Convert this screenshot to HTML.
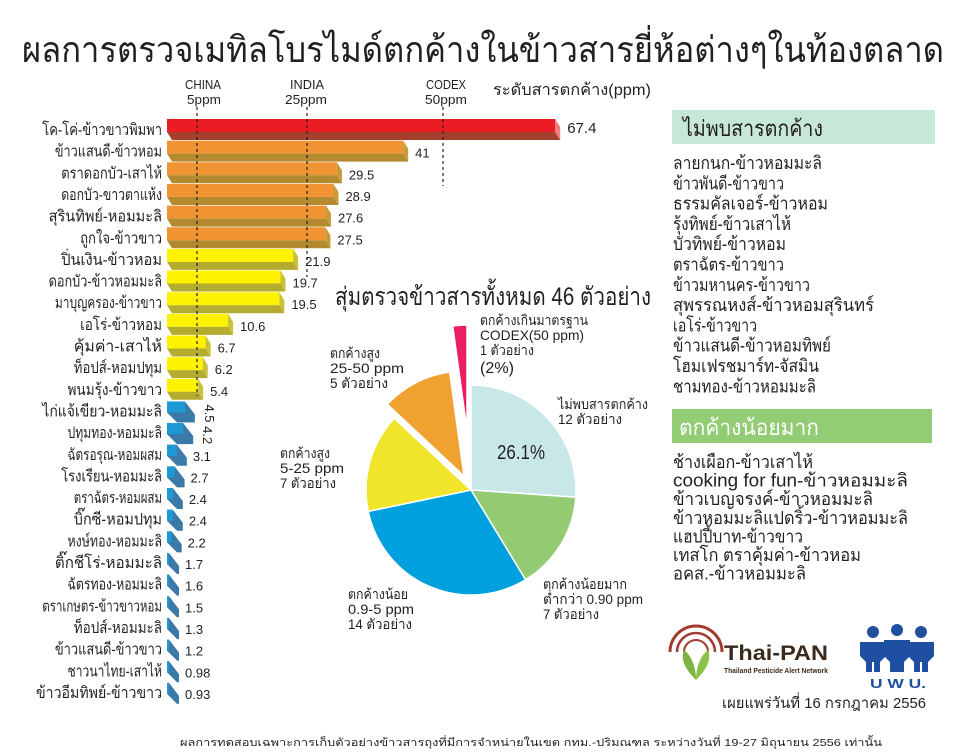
<!DOCTYPE html>
<html><head><meta charset="utf-8">
<style>
html,body{margin:0;padding:0;background:#fff;}
svg{display:block;font-family:"Liberation Sans","DejaVu Sans",sans-serif;}
</style></head>
<body>
<svg id="s" width="960" height="754" viewBox="0 0 960 754" xmlns="http://www.w3.org/2000/svg">
<rect width="960" height="754" fill="#fff"/>
<text x="22" y="62" font-size="36" fill="#231f20" textLength="922" lengthAdjust="spacingAndGlyphs">ผลการตรวจเมทิลโบรไมด์ตกค้างในข้าวสารยี่ห้อต่างๆในท้องตลาด</text>
<g font-size="13" fill="#231f20" font-family="Liberation Sans Narrow, Liberation Sans, sans-serif">
<text x="185" y="89" textLength="36" lengthAdjust="spacingAndGlyphs">CHINA</text>
<text x="187" y="104" textLength="34" lengthAdjust="spacingAndGlyphs">5ppm</text>
<text x="290" y="89" textLength="34" lengthAdjust="spacingAndGlyphs">INDIA</text>
<text x="285" y="104" textLength="42" lengthAdjust="spacingAndGlyphs">25ppm</text>
<text x="426" y="89" textLength="40" lengthAdjust="spacingAndGlyphs">CODEX</text>
<text x="425" y="104" textLength="42" lengthAdjust="spacingAndGlyphs">50ppm</text>
</g>
<text x="493" y="95" font-size="16" fill="#231f20" textLength="158" lengthAdjust="spacingAndGlyphs">ระดับสารตกค้าง(ppm)</text>
<g id="bars"></g>
<g stroke="#231f20" stroke-width="1.2" stroke-dasharray="3,3">
<line x1="197" y1="107" x2="197" y2="396"/>
<line x1="307" y1="107" x2="307" y2="277"/>
<line x1="443" y1="107" x2="443" y2="186"/>
</g>
<text x="335" y="305" font-size="25" fill="#231f20" textLength="316" lengthAdjust="spacingAndGlyphs">สุ่มตรวจข้าวสารทั้งหมด 46 ตัวอย่าง</text>
<g id="pie"></g>
<g font-size="14" fill="#231f20">
<text x="480" y="325" textLength="108" lengthAdjust="spacingAndGlyphs">ตกค้างเกินมาตรฐาน</text>
<text x="480" y="340" textLength="104" lengthAdjust="spacingAndGlyphs">CODEX(50 ppm)</text>
<text x="480" y="355" textLength="54" lengthAdjust="spacingAndGlyphs">1 ตัวอย่าง</text>
<text x="480" y="373" font-size="16" textLength="34" lengthAdjust="spacingAndGlyphs">(2%)</text>
<text x="330" y="358" textLength="50" lengthAdjust="spacingAndGlyphs">ตกค้างสูง</text>
<text x="330" y="373" textLength="74" lengthAdjust="spacingAndGlyphs">25-50 ppm</text>
<text x="330" y="388" textLength="58" lengthAdjust="spacingAndGlyphs">5 ตัวอย่าง</text>
<text x="558" y="409" textLength="90" lengthAdjust="spacingAndGlyphs">ไม่พบสารตกค้าง</text>
<text x="558" y="424" textLength="64" lengthAdjust="spacingAndGlyphs">12 ตัวอย่าง</text>
<text x="280" y="458" textLength="50" lengthAdjust="spacingAndGlyphs">ตกค้างสูง</text>
<text x="280" y="473" textLength="64" lengthAdjust="spacingAndGlyphs">5-25 ppm</text>
<text x="280" y="488" textLength="56" lengthAdjust="spacingAndGlyphs">7 ตัวอย่าง</text>
<text x="543" y="589" textLength="84" lengthAdjust="spacingAndGlyphs">ตกค้างน้อยมาก</text>
<text x="543" y="604" textLength="100" lengthAdjust="spacingAndGlyphs">ต่ำกว่า 0.90 ppm</text>
<text x="543" y="619" textLength="56" lengthAdjust="spacingAndGlyphs">7 ตัวอย่าง</text>
<text x="348" y="599" textLength="60" lengthAdjust="spacingAndGlyphs">ตกค้างน้อย</text>
<text x="348" y="614" textLength="66" lengthAdjust="spacingAndGlyphs">0.9-5 ppm</text>
<text x="348" y="629" textLength="64" lengthAdjust="spacingAndGlyphs">14 ตัวอย่าง</text>
<text x="497" y="459" font-size="20" textLength="48" lengthAdjust="spacingAndGlyphs">26.1%</text>
</g>
<rect x="672" y="110" width="263" height="34" fill="#c7e8d6"/>
<text x="683" y="136" font-size="22" fill="#231f20" textLength="140" lengthAdjust="spacingAndGlyphs">ไม่พบสารตกค้าง</text>
<g font-size="18" fill="#231f20" id="list1"></g>
<rect x="672" y="409" width="260" height="34" fill="#92cc74"/>
<text x="679" y="435" font-size="22" fill="#fff" textLength="140" lengthAdjust="spacingAndGlyphs">ตกค้างน้อยมาก</text>
<g font-size="18" fill="#231f20" id="list2"></g>
<g>
<circle cx="696" cy="652" r="26" fill="none" stroke="#a33a2f" stroke-width="3"/>
<circle cx="696" cy="652" r="19" fill="none" stroke="#a33a2f" stroke-width="2.5"/>
<circle cx="696" cy="652" r="12" fill="none" stroke="#a33a2f" stroke-width="2"/>
<rect x="668" y="652" width="56" height="30" fill="#fff"/>
<path d="M696 680 C686 670 680 660 684 650 C692 656 696 668 696 680Z" fill="#7cb342"/>
<path d="M696 680 C706 670 712 660 708 650 C700 656 696 668 696 680Z" fill="#8bc34a"/>
<text x="724" y="660" font-size="21" font-weight="bold" fill="#3b2a1e" textLength="104" lengthAdjust="spacingAndGlyphs">Thai-PAN</text>
<text x="724" y="673" font-size="7" font-weight="bold" fill="#3b2a1e" textLength="104" lengthAdjust="spacingAndGlyphs">Thailand Pesticide Alert Network</text>
</g>
<g fill="#1f4fa0">
<circle cx="873" cy="632" r="6"/><circle cx="897" cy="630" r="6"/><circle cx="921" cy="632" r="6"/>
<path d="M860 642 h26 v14 l-6 6 v10 h-6 v-10 h-2 v10 h-6 v-10 l-6 -6z"/>
<path d="M884 640 h26 v16 l-6 6 v10 h-14 v-10 l-6 -6z"/>
<path d="M908 642 h26 v14 l-6 6 v10 h-6 v-10 h-2 v10 h-6 v-10 l-6 -6z"/>
<text x="870" y="688" font-size="13" font-weight="bold" textLength="56" lengthAdjust="spacingAndGlyphs">U W U.</text>
</g>
<text x="722" y="708" font-size="15" fill="#231f20" textLength="204" lengthAdjust="spacingAndGlyphs">เผยแพร่วันที่ 16 กรกฎาคม 2556</text>
<text x="180" y="746" font-size="10.5" fill="#231f20" textLength="702" lengthAdjust="spacingAndGlyphs">ผลการทดสอบเฉพาะการเก็บตัวอย่างข้าวสารถุงที่มีการจำหน่ายในเขต กทม.-ปริมณฑล ระหว่างวันที่ 19-27 มิถุนายน 2556 เท่านั้น</text>
</svg>
<script>
var NS="http://www.w3.org/2000/svg";
function el(p,t,a,txt){var e=document.createElementNS(NS,t);for(var k in a)e.setAttribute(k,a[k]);if(txt!=null)e.textContent=txt;p.appendChild(e);return e;}
var rows=[["โค-โค่-ข้าวขาวพิมพา",67.4],["ข้าวแสนดี-ข้าวหอม",41],["ตราดอกบัว-เสาไห้",29.5],["ดอกบัว-ขาวตาแห้ง",28.9],["สุรินทิพย์-หอมมะลิ",27.6],["ถูกใจ-ข้าวขาว",27.5],["ปิ่นเงิน-ข้าวหอม",21.9],["ดอกบัว-ข้าวหอมมะลิ",19.7],["มาบุญครอง-ข้าวขาว",19.5],["เอโร่-ข้าวหอม",10.6],["คุ้มค่า-เสาไห้",6.7],["ท็อปส์-หอมปทุม",6.2],["พนมรุ้ง-ข้าวขาว",5.4],["ไก่แจ้เขียว-หอมมะลิ",4.5],["ปทุมทอง-หอมมะลิ",4.2],["ฉัตรอรุณ-หอมผสม",3.1],["โรงเรียน-หอมมะลิ",2.7],["ตราฉัตร-หอมผสม",2.4],["บิ๊กซี-หอมปทุม",2.4],["หงษ์ทอง-หอมมะลิ",2.2],["ติ๊กชีโร่-หอมมะลิ",1.7],["ฉัตรทอง-หอมมะลิ",1.6],["ตราเกษตร-ข้าวขาวหอม",1.5],["ท็อปส์-หอมมะลิ",1.3],["ข้าวแสนดี-ข้าวขาว",1.2],["ชาวนาไทย-เสาไห้",0.98],["ข้าวอีมทิพย์-ข้าวขาว",0.93]];
var g=document.getElementById("bars");
for(var i=0;i<rows.length;i++){
 var y=129+i*21.65, v=rows[i][1], x0=167, w=Math.max(v*5.76,8);
 var c,d,s;
 if(i==0){c="#ec1c24";d="#a5402f";s="#f08080";}
 else if(i<6){c="#f09433";d="#b48a2f";s="#c89b3a";}
 else if(i<13){c="#fff200";d="#b3ac2f";s="#c9c13a";}
 else{c="#1d9ad6";d="#3b7aa8";s="#4a8cc0";}
 var lab=rows[i][0];
 el(g,"text",{x:162,y:y+6,"font-size":16,fill:"#231f20","text-anchor":"end",textLength:lab.length*6.3,lengthAdjust:"spacingAndGlyphs"},lab);
 var t=y-10;
 if(i<13){
  el(g,"rect",{x:x0,y:t,width:w,height:13,fill:c});
  el(g,"polygon",{points:(x0)+","+(t+13)+" "+(x0+w)+","+(t+13)+" "+(x0+w+5)+","+(t+21)+" "+(x0+5)+","+(t+21),fill:d});
  el(g,"polygon",{points:(x0+w)+","+t+" "+(x0+w+5)+","+(t+8)+" "+(x0+w+5)+","+(t+21)+" "+(x0+w)+","+(t+13),fill:s});
 } else {
  var bw=Math.max(v*5.76,10)-8;
  el(g,"polygon",{points:(x0)+","+(t+1)+" "+(x0+bw)+","+(t+1)+" "+(x0+bw+10)+","+(t+14)+" "+(x0+bw+10)+","+(t+22)+" "+(x0+10)+","+(t+22)+" "+(x0)+","+(t+12),fill:d});
  el(g,"rect",{x:x0,y:t+1,width:bw,height:11,fill:c});
 }
 var vx=(i<13? x0+w+12 : x0+Math.max(v*5.76,10)+8), vy=y+(i==0?4:7);
 var vs=(v+"");
 if(i==13||i==14){
  el(g,"text",{x:0,y:0,"font-size":13,fill:"#231f20",transform:"translate("+(x0+v*5.76+12)+","+(y-6)+") rotate(90)"},vs);
 } else {
  el(g,"text",{x:vx,y:vy,"font-size":(i==0?15:13),fill:"#231f20"},vs);
 }
}
var p=document.getElementById("pie"),cx=471,cy=490,r=105;
function pt(a,rr,ox,oy){var t=(a-90)*Math.PI/180;return [(cx+ox+rr*Math.cos(t)).toFixed(1),(cy+oy+rr*Math.sin(t)).toFixed(1)];}
var sl=[[12,"#c8e8e8",0,0],[7,"#93ca72",0,0],[14,"#009fdd",0,0],[7,"#f0e52b",0,0],[5,"#efa22f",-7,-14],[1,"#ea1e63",-4,-60]];
var a=0;
for(var j=0;j<sl.length;j++){
 var da=sl[j][0]/46*360, b=a+da, ox=sl[j][2], oy=sl[j][3];
 var p1=pt(a,r,ox,oy),p2=pt(b,r,ox,oy);
 el(p,"path",{d:"M"+(cx+ox)+","+(cy+oy)+" L"+p1[0]+","+p1[1]+" A"+r+","+r+" 0 "+(da>180?1:0)+" 1 "+p2[0]+","+p2[1]+" Z",fill:sl[j][1],stroke:"#fff","stroke-width":1.5});
 a=b;
}
var l1=["ลายกนก-ข้าวหอมมะลิ","ข้าวพันดี-ข้าวขาว","ธรรมคัลเจอร์-ข้าวหอม","รุ้งทิพย์-ข้าวเสาไห้","บัวทิพย์-ข้าวหอม","ตราฉัตร-ข้าวขาว","ข้าวมหานคร-ข้าวขาว","สุพรรณหงส์-ข้าวหอมสุรินทร์","เอโร่-ข้าวขาว","ข้าวแสนดี-ข้าวหอมทิพย์","โฮมเฟรชมาร์ท-จัสมิน","ชามทอง-ข้าวหอมมะลิ"];
var w1=[149,111,155,118,113,111,137,201,84,158,146,143];
var L=document.getElementById("list1");
for(var k=0;k<l1.length;k++)el(L,"text",{x:673,y:169+k*20.3,textLength:w1[k],lengthAdjust:"spacingAndGlyphs"},l1[k]);
var l2=["ช้างเผือก-ข้าวเสาไห้","cooking for fun-ข้าวหอมมะลิ","ข้าวเบญจรงค์-ข้าวหอมมะลิ","ข้าวหอมมะลิแปดริ้ว-ข้าวหอมมะลิ","แฮปปี้บาท-ข้าวขาว","เทสโก ตราคุ้มค่า-ข้าวหอม","อคส.-ข้าวหอมมะลิ"];
var w2=[140,235,200,235,130,188,133];
var L2=document.getElementById("list2");
for(var k=0;k<l2.length;k++)el(L2,"text",{x:673,y:468+k*18.6,textLength:w2[k],lengthAdjust:"spacingAndGlyphs"},l2[k]);
</script>
</body></html>
